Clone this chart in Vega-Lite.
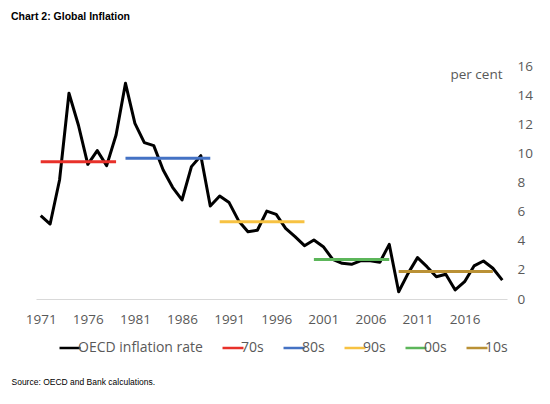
{
  "$schema": "https://vega.github.io/schema/vega-lite/v6.json",
  "width": 471,
  "height": 233,
  "autosize": {"type": "none"},
  "padding": {"left": 36, "top": 66, "right": 43, "bottom": 105},
  "background": "white",
  "title": {
    "text": "Chart 2: Global Inflation",
    "anchor": "start",
    "font": "Liberation Sans",
    "fontSize": 10.5,
    "fontWeight": "bold",
    "color": "black",
    "dx": 0,
    "offset": 37
  },
  "config": {
    "view": {"stroke": null},
    "axis": {"labelFont": "Open Sans", "labelFontSize": 13.5, "labelColor": "#595959", "ticks": false, "grid": false}
  },
  "data": {
    "values": [
      {"year": 1971, "value": 5.72, "series": "OECD inflation rate"},
      {"year": 1972, "value": 5.15, "series": "OECD inflation rate"},
      {"year": 1973, "value": 8.17, "series": "OECD inflation rate"},
      {"year": 1974, "value": 14.13, "series": "OECD inflation rate"},
      {"year": 1975, "value": 11.95, "series": "OECD inflation rate"},
      {"year": 1976, "value": 9.25, "series": "OECD inflation rate"},
      {"year": 1977, "value": 10.19, "series": "OECD inflation rate"},
      {"year": 1978, "value": 9.16, "series": "OECD inflation rate"},
      {"year": 1979, "value": 11.26, "series": "OECD inflation rate"},
      {"year": 1980, "value": 14.81, "series": "OECD inflation rate"},
      {"year": 1981, "value": 12.06, "series": "OECD inflation rate"},
      {"year": 1982, "value": 10.74, "series": "OECD inflation rate"},
      {"year": 1983, "value": 10.53, "series": "OECD inflation rate"},
      {"year": 1984, "value": 8.86, "series": "OECD inflation rate"},
      {"year": 1985, "value": 7.67, "series": "OECD inflation rate"},
      {"year": 1986, "value": 6.8, "series": "OECD inflation rate"},
      {"year": 1987, "value": 9.09, "series": "OECD inflation rate"},
      {"year": 1988, "value": 9.84, "series": "OECD inflation rate"},
      {"year": 1989, "value": 6.39, "series": "OECD inflation rate"},
      {"year": 1990, "value": 7.07, "series": "OECD inflation rate"},
      {"year": 1991, "value": 6.62, "series": "OECD inflation rate"},
      {"year": 1992, "value": 5.38, "series": "OECD inflation rate"},
      {"year": 1993, "value": 4.62, "series": "OECD inflation rate"},
      {"year": 1994, "value": 4.72, "series": "OECD inflation rate"},
      {"year": 1995, "value": 6.04, "series": "OECD inflation rate"},
      {"year": 1996, "value": 5.81, "series": "OECD inflation rate"},
      {"year": 1997, "value": 4.85, "series": "OECD inflation rate"},
      {"year": 1998, "value": 4.28, "series": "OECD inflation rate"},
      {"year": 1999, "value": 3.66, "series": "OECD inflation rate"},
      {"year": 2000, "value": 4.05, "series": "OECD inflation rate"},
      {"year": 2001, "value": 3.59, "series": "OECD inflation rate"},
      {"year": 2002, "value": 2.72, "series": "OECD inflation rate"},
      {"year": 2003, "value": 2.45, "series": "OECD inflation rate"},
      {"year": 2004, "value": 2.38, "series": "OECD inflation rate"},
      {"year": 2005, "value": 2.63, "series": "OECD inflation rate"},
      {"year": 2006, "value": 2.63, "series": "OECD inflation rate"},
      {"year": 2007, "value": 2.52, "series": "OECD inflation rate"},
      {"year": 2008, "value": 3.75, "series": "OECD inflation rate"},
      {"year": 2009, "value": 0.5, "series": "OECD inflation rate"},
      {"year": 2010, "value": 1.76, "series": "OECD inflation rate"},
      {"year": 2011, "value": 2.84, "series": "OECD inflation rate"},
      {"year": 2012, "value": 2.22, "series": "OECD inflation rate"},
      {"year": 2013, "value": 1.53, "series": "OECD inflation rate"},
      {"year": 2014, "value": 1.7, "series": "OECD inflation rate"},
      {"year": 2015, "value": 0.62, "series": "OECD inflation rate"},
      {"year": 2016, "value": 1.19, "series": "OECD inflation rate"},
      {"year": 2017, "value": 2.27, "series": "OECD inflation rate"},
      {"year": 2018, "value": 2.61, "series": "OECD inflation rate"},
      {"year": 2019, "value": 2.11, "series": "OECD inflation rate"},
      {"year": 2020, "value": 1.3, "series": "OECD inflation rate"},
      {"year": 1971, "value": 9.43, "series": "70s"},
      {"year": 1979, "value": 9.43, "series": "70s"},
      {"year": 1980, "value": 9.66, "series": "80s"},
      {"year": 1989, "value": 9.66, "series": "80s"},
      {"year": 1990, "value": 5.31, "series": "90s"},
      {"year": 1999, "value": 5.31, "series": "90s"},
      {"year": 2000, "value": 2.72, "series": "00s"},
      {"year": 2008, "value": 2.72, "series": "00s"},
      {"year": 2009, "value": 1.88, "series": "10s"},
      {"year": 2019, "value": 1.88, "series": "10s"}
    ]
  },
  "mark": {"type": "line", "strokeWidth": 3, "strokeJoin": "round"},
  "encoding": {
    "x": {
      "field": "year",
      "type": "quantitative",
      "scale": {"domain": [1970.5, 2020.5], "nice": false, "zero": false},
      "axis": {
        "values": [1971, 1976, 1981, 1986, 1991, 1996, 2001, 2006, 2011, 2016],
        "format": "d",
        "labelPadding": 13,
        "domainColor": "#d9d9d9",
        "domainWidth": 1,
        "title": "Source: OECD and Bank calculations.",
        "titleFont": "Liberation Sans",
        "titleFontSize": 8.5,
        "titleFontWeight": "normal",
        "titleColor": "black",
        "titleAlign": "left",
        "titleAnchor": "start",
        "titleX": -25,
        "titleY": 82,
        "titleBaseline": "middle"
      }
    },
    "y": {
      "field": "value",
      "type": "quantitative",
      "scale": {"domain": [0, 16], "nice": false},
      "axis": {
        "orient": "right",
        "values": [0, 2, 4, 6, 8, 10, 12, 14, 16],
        "domain": false,
        "labelPadding": 10,
        "title": "per cent",
        "titleFont": "Open Sans",
        "titleFontSize": 13.5,
        "titleFontWeight": "normal",
        "titleColor": "#595959",
        "titleAngle": 0,
        "titleAlign": "right",
        "titleBaseline": "middle",
        "titleX": -5,
        "titleY": 8
      }
    },
    "color": {
      "field": "series",
      "type": "nominal",
      "scale": {
        "domain": ["OECD inflation rate", "70s", "80s", "90s", "00s", "10s"],
        "range": ["#000000", "#E8312A", "#4472C4", "#F7C242", "#5CB65A", "#BA9135"]
      },
      "legend": {
        "orient": "none",
        "legendX": 22,
        "legendY": 270,
        "direction": "horizontal",
        "title": null,
        "symbolType": "stroke",
        "symbolSize": 440,
        "symbolStrokeWidth": 2.5,
        "labelOffset": -4,
        "columnPadding": 14,
        "labelFont": "Open Sans",
        "labelFontSize": 14,
        "labelColor": "#595959"
      }
    }
  }
}
